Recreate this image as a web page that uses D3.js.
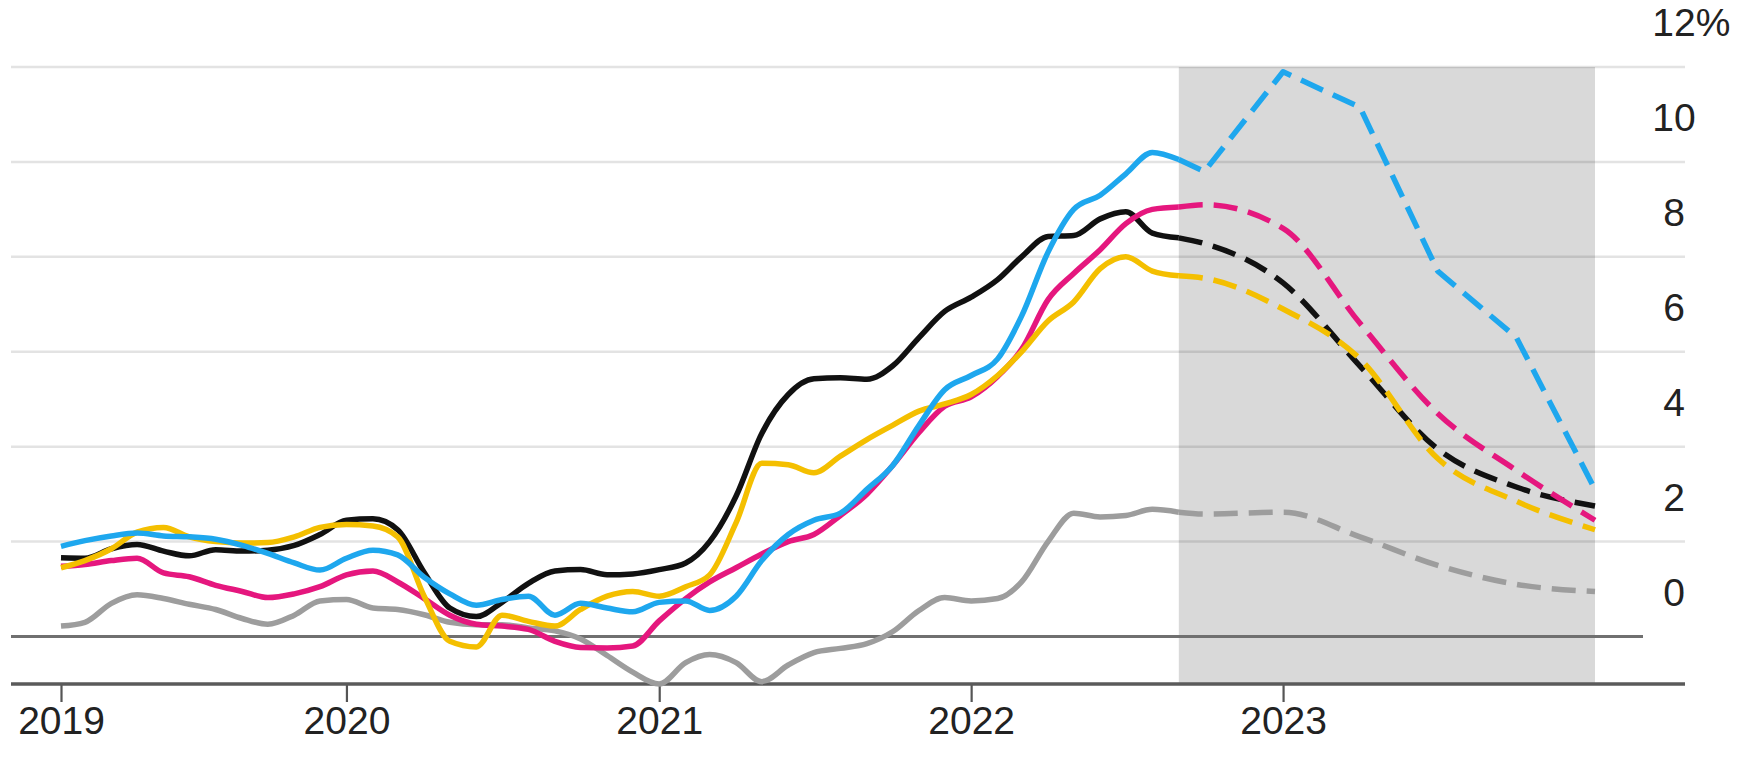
<!DOCTYPE html>
<html>
<head>
<meta charset="utf-8">
<script src="https://cdn.jsdelivr.net/npm/d3@7"></script>
<style>
  html, body { margin: 0; padding: 0; background: #ffffff; }
  svg { display: block; }
</style>
</head>
<body>
<svg id="chart" width="1742" height="771"></svg>
<script>
// ---------------- DATA ----------------
// Monthly actuals, first month Feb 2019, last month Sep 2022
const actualStart = "2019-02-01";
const actualEnd = "2022-10-01"; // exclusive
const usActual = [1.66,1.65,1.85,1.94,1.80,1.70,1.83,1.80,1.82,1.92,2.15,2.45,2.48,2.25,1.35,0.60,0.42,0.72,1.12,1.38,1.41,1.30,1.32,1.41,1.55,2.00,2.96,4.28,5.10,5.43,5.45,5.42,5.70,6.30,6.85,7.15,7.52,8.00,8.43,8.45,8.80,8.95,8.50,8.40];
const euroActual = [1.48,1.52,1.60,1.65,1.34,1.26,1.08,0.95,0.82,0.90,1.05,1.30,1.38,1.15,0.80,0.45,0.26,0.22,0.15,-0.10,-0.23,-0.24,-0.20,0.33,0.80,1.15,1.45,1.74,2.00,2.15,2.55,3.00,3.60,4.30,4.85,5.05,5.48,6.05,7.10,7.65,8.15,8.70,9.00,9.05];
const canadaActual = [1.45,1.60,1.85,2.20,2.30,2.10,2.00,1.97,1.98,2.10,2.30,2.36,2.33,2.10,0.85,-0.10,-0.22,0.45,0.32,0.22,0.57,0.85,0.95,0.85,1.05,1.30,2.40,3.65,3.62,3.45,3.80,4.15,4.45,4.75,4.90,5.10,5.50,6.00,6.65,7.05,7.75,8.00,7.70,7.60];
const ukActual = [1.90,2.02,2.12,2.18,2.12,2.10,2.05,1.92,1.75,1.55,1.40,1.65,1.82,1.72,1.25,0.90,0.66,0.78,0.85,0.45,0.70,0.60,0.52,0.72,0.75,0.55,0.85,1.60,2.15,2.45,2.60,3.10,3.60,4.45,5.20,5.50,5.85,6.75,8.10,9.00,9.30,9.75,10.20,10.05];
const japanActual = [0.22,0.30,0.70,0.88,0.80,0.68,0.57,0.38,0.26,0.45,0.75,0.78,0.60,0.57,0.46,0.30,0.25,0.25,0.18,0.12,-0.05,-0.40,-0.75,-1.00,-0.55,-0.38,-0.55,-0.95,-0.60,-0.34,-0.25,-0.15,0.10,0.55,0.82,0.75,0.80,1.15,2.00,2.60,2.52,2.55,2.68,2.62];

// Forecasts (dashed)
const forecastDates = ["2022-09-01","2022-10-01","2023-01-01","2023-04-01","2023-07-01","2023-10-01","2024-01-01"];
const usForecast = [8.40,8.28,7.45,5.70,3.95,3.15,2.75];
const euroForecast = [9.05,9.10,8.60,6.60,4.70,3.50,2.45];
const canadaForecast = [7.60,7.55,6.90,5.85,3.75,2.85,2.25];
const ukForecast = [10.05,9.80,11.90,11.15,7.70,6.30,3.10];
const japanForecast = [2.62,2.58,2.62,2.10,1.50,1.10,0.95];

// Forecast shading period
const shadeStart = "2022-09-01";
const shadeEnd = "2024-01-01";

// Axis ticks
const xTickDates = ["2019-02-01","2020-01-01","2021-01-01","2022-01-01","2023-01-01"];
const xTickLabels = ["2019","2020","2021","2022","2023"];
const yTickValues = [0,2,4,6,8,10,12];
const yTickLabels = ["0","2","4","6","8","10","12"];

// ---------------- STYLES ----------------
const seriesList = [
  { name: "Japan",  actual: japanActual,  forecast: japanForecast,  color: "#9d9d9d", curve: "smooth" },
  { name: "US",     actual: usActual,     forecast: usForecast,     color: "#111111", curve: "smooth" },
  { name: "Euro",   actual: euroActual,   forecast: euroForecast,   color: "#e5177e", curve: "smooth" },
  { name: "Canada", actual: canadaActual, forecast: canadaForecast, color: "#f4bf00", curve: "smooth" },
  { name: "UK",     actual: ukActual,     forecast: ukForecast,     color: "#1ea7ee", curve: "linear" }
];

const parse = d3.timeParse("%Y-%m-%d");
const svg = d3.select("#chart");
const FONT = "'Liberation Sans', Arial, Helvetica, sans-serif";
const FONT_SIZE = 39;
const TEXT_COLOR = "#222222";

const x = d3.scaleTime()
  .domain([parse("2019-02-01"), parse("2024-01-01")])
  .range([61, 1595]);
const y = d3.scaleLinear()
  .domain([-1, 12])
  .range([684, 67]);

const months = d3.timeMonth.range(parse(actualStart), parse(actualEnd));

// Shaded forecast region
svg.append("rect")
  .attr("x", x(parse(shadeStart)))
  .attr("y", y(12))
  .attr("width", x(parse(shadeEnd)) - x(parse(shadeStart)))
  .attr("height", y(-1) - y(12))
  .attr("fill", "#d9d9d9");

// Gridlines (light)
svg.append("g").selectAll("line")
  .data(yTickValues.filter(v => v > 0))
  .join("line")
  .attr("x1", 11).attr("x2", 1685)
  .attr("y1", d => y(d)).attr("y2", d => y(d))
  .attr("stroke", "#000").attr("stroke-opacity", 0.11)
  .attr("stroke-width", 2.5);

// Zero line
svg.append("line")
  .attr("x1", 11).attr("x2", 1643)
  .attr("y1", y(0)).attr("y2", y(0))
  .attr("stroke", "#707070").attr("stroke-width", 3);

// Y labels (centred, sitting above each gridline)
const labelX = 1674;
const yl = svg.append("g")
  .attr("font-family", FONT).attr("font-size", FONT_SIZE).attr("fill", TEXT_COLOR);
yTickValues.forEach((v, i) => {
  const isTop = i === yTickValues.length - 1;
  const t = yl.append("text")
    .attr("x", labelX)
    .attr("y", y(v) - 31)
    .attr("text-anchor", "middle")
    .text(yTickLabels[i]);
  if (isTop) {
    const w = t.node().getComputedTextLength();
    yl.append("text")
      .attr("x", labelX + w / 2)
      .attr("y", y(v) - 31)
      .attr("text-anchor", "start")
      .text("%");
  }
});

// X axis
const xAxis = d3.axisBottom(x)
  .tickValues(xTickDates.map(parse))
  .tickFormat((d, i) => xTickLabels[i])
  .tickSize(18)
  .tickSizeOuter(0);

const gx = svg.append("g")
  .attr("transform", `translate(0,${y(-1)})`)
  .call(xAxis);
gx.select(".domain").remove();
gx.selectAll(".tick line")
  .attr("stroke", "#555").attr("stroke-width", 2.2);
gx.selectAll(".tick text")
  .attr("y", 50).attr("dy", 0)
  .attr("font-family", FONT).attr("font-size", FONT_SIZE)
  .attr("fill", TEXT_COLOR);

// Bottom axis line
svg.append("line")
  .attr("x1", 11).attr("x2", 1685)
  .attr("y1", y(-1)).attr("y2", y(-1))
  .attr("stroke", "#5a5a5a").attr("stroke-width", 3.5);

// Lines
const lineSmooth = d3.line().x(d => x(d.date)).y(d => y(d.value)).curve(d3.curveMonotoneX);
const lineLinear = d3.line().x(d => x(d.date)).y(d => y(d.value)).curve(d3.curveLinear);

const linesG = svg.append("g").attr("fill", "none")
  .attr("stroke-linecap", "butt").attr("stroke-linejoin", "round");

seriesList.forEach(s => {
  const actualPts = s.actual.map((v, i) => ({ date: months[i], value: v }));
  linesG.append("path")
    .datum(actualPts)
    .attr("d", lineSmooth)
    .attr("stroke", s.color)
    .attr("stroke-width", 5.5);
});

seriesList.forEach(s => {
  const fcPts = s.forecast.map((v, i) => ({ date: parse(forecastDates[i]), value: v }));
  linesG.append("path")
    .datum(fcPts)
    .attr("d", s.curve === "linear" ? lineLinear : lineSmooth)
    .attr("stroke", s.color)
    .attr("stroke-width", 5.5)
    .attr("stroke-dasharray", "24,11");
});
</script>
</body>
</html>
